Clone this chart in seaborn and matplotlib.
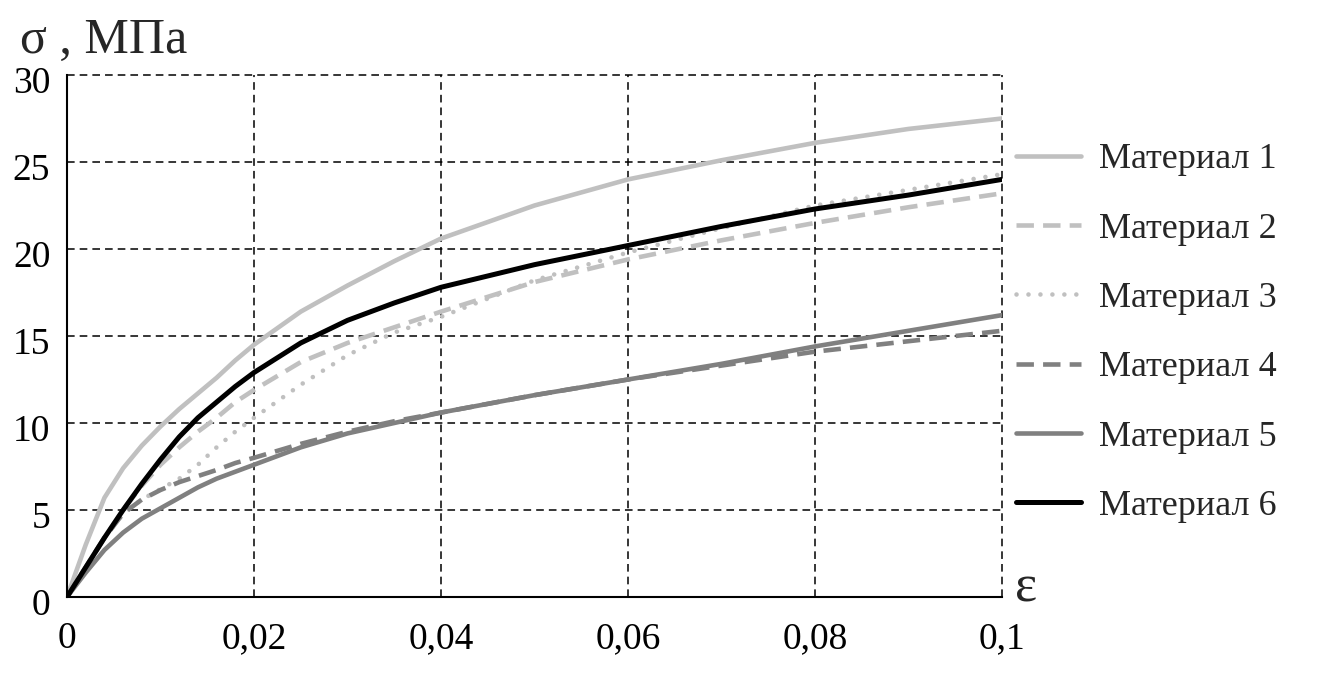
import numpy as np
import pandas as pd
import matplotlib
matplotlib.use("Agg")
import matplotlib.pyplot as plt
import matplotlib.transforms as mtransforms
import seaborn as sns

# деформация (общая сетка) и напряжения, МПа
strain = [0, 0.002, 0.004, 0.006, 0.008, 0.01, 0.012, 0.014, 0.016, 0.018, 0.02,
          0.025, 0.03, 0.035, 0.04, 0.05, 0.06, 0.07, 0.08, 0.09, 0.1]

material_1 = [0, 3.0, 5.7, 7.4, 8.7, 9.8, 10.8, 11.7, 12.6, 13.6, 14.5,
              16.4, 17.9, 19.3, 20.6, 22.5, 24.0, 25.1, 26.1, 26.9, 27.5]
material_2 = [0, 1.7, 3.4, 5.0, 6.4, 7.6, 8.6, 9.5, 10.3, 11.2, 11.9,
              13.5, 14.6, 15.5, 16.4, 18.1, 19.4, 20.5, 21.5, 22.4, 23.2]
material_3 = [0, 1.7, 3.4, 4.8, 5.6, 6.2, 6.8, 7.6, 8.6, 9.5, 10.3,
              12.2, 13.9, 15.2, 16.1, 18.2, 19.8, 21.2, 22.5, 23.4, 24.3]
material_4 = [0, 1.7, 3.4, 4.8, 5.6, 6.15, 6.6, 6.95, 7.3, 7.7, 8.0,
              8.8, 9.5, 10.1, 10.6, 11.6, 12.5, 13.3, 14.1, 14.7, 15.3]
material_5 = [0, 1.4, 2.7, 3.7, 4.5, 5.1, 5.7, 6.3, 6.8, 7.2, 7.6,
              8.6, 9.4, 10.0, 10.6, 11.6, 12.5, 13.4, 14.4, 15.3, 16.2]
material_6 = [0, 1.7, 3.4, 5.0, 6.5, 7.9, 9.2, 10.3, 11.2, 12.1, 12.9,
              14.6, 15.9, 16.9, 17.8, 19.1, 20.2, 21.3, 22.3, 23.1, 24.0]

labels = ["Материал 1", "Материал 2", "Материал 3",
          "Материал 4", "Материал 5", "Материал 6"]
series = [material_1, material_2, material_3, material_4, material_5, material_6]

x_ticks = [0, 0.02, 0.04, 0.06, 0.08, 0.1]
x_tick_labels = ["0", "0,02", "0,04", "0,06", "0,08", "0,1"]
y_ticks = [0, 5, 10, 15, 20, 25, 30]

LIGHT = "#c0c0c0"
DARK = "#808080"
styles = [
    dict(color=LIGHT, lw=3.3, linestyle="-"),
    dict(color=LIGHT, lw=3.3, linestyle=(0, (3.8, 2.0))),
    dict(color=LIGHT, lw=3.3, linestyle=(0, (0.01, 2.6)), dash_capstyle="round"),
    dict(color=DARK, lw=3.3, linestyle=(0, (3.8, 2.0))),
    dict(color=DARK, lw=3.3, linestyle="-"),
    dict(color="black", lw=3.6, linestyle="-"),
]

sns.set_style("white")
plt.rcParams["font.family"] = ["Liberation Serif", "DejaVu Serif"]

fig = plt.figure(figsize=(13.2, 6.74), dpi=100)
ax = fig.add_axes([67 / 1320, 77 / 674, 935 / 1320, 522 / 674])

for lab, vals, st in zip(labels, series, styles):
    df = pd.DataFrame({"strain": strain, "stress": vals})
    sns.lineplot(data=df, x="strain", y="stress", ax=ax, label=lab, **st)

ax.set_xlim(0, 0.1)
ax.set_ylim(0, 30)
ax.set_xticks(x_ticks)
ax.set_xticklabels(x_tick_labels)
ax.set_yticks(y_ticks)
ax.set_xlabel("")
ax.set_ylabel("")

ax.grid(True, color="black", lw=1.1, linestyle=(0, (5, 3.3)))
ax.set_axisbelow(True)
for g in ax.get_xgridlines() + ax.get_ygridlines():
    g.set_clip_on(False)

for side in ["top", "right"]:
    ax.spines[side].set_visible(False)
for side in ["left", "bottom"]:
    ax.spines[side].set_color("black")
    ax.spines[side].set_linewidth(1.5)

ax.tick_params(axis="both", direction="out", length=9, width=1.5,
               colors="black", labelsize=27)
ax.tick_params(axis="y", pad=3)
ax.tick_params(axis="x", pad=9)

# цифры по оси y чуть ниже рисок, как в оригинале
shift = mtransforms.ScaledTranslation(0, -0.05, fig.dpi_scale_trans)
for t in ax.get_yticklabels():
    t.set_transform(t.get_transform() + shift)

# подписи осей
fig.text(20 / 1320, 1 - 53 / 674, "σ , МПа", fontsize=36, va="baseline")
fig.text(1015 / 1320, 1 - 601 / 674, "ε", fontsize=38, va="baseline")

leg = ax.legend(loc="center left", bbox_to_anchor=(1016 / 1320, 1 - 333 / 674),
                bbox_transform=fig.transFigure, frameon=False, fontsize=26,
                handlelength=1.8, handletextpad=0.5, labelspacing=1.0,
                borderpad=0, borderaxespad=0)

fig.savefig("out.png", dpi=100)
plt.close(fig)
